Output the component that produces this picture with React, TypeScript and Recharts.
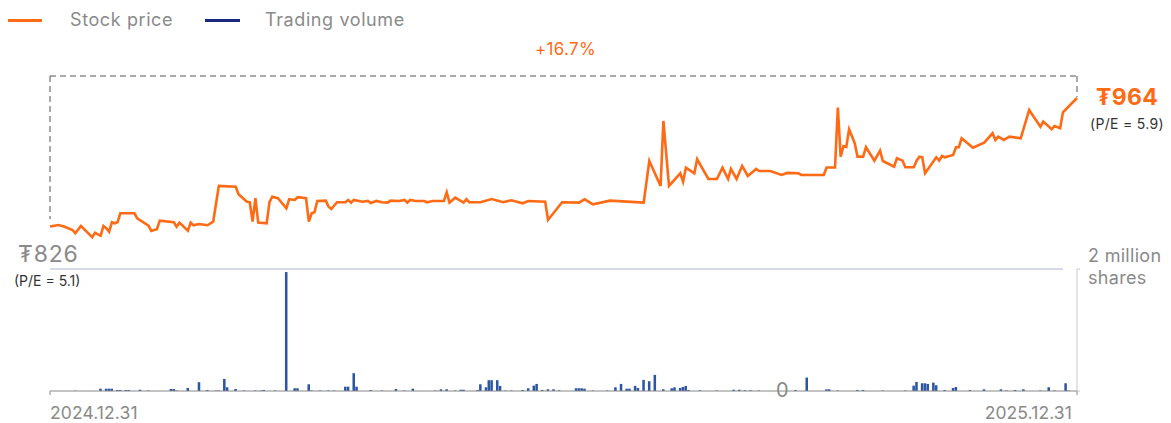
import React from "react";
import {
  LineChart,
  Line,
  BarChart,
  Bar,
  XAxis,
  YAxis,
  ReferenceLine,
} from "recharts";

// Day index: 0 = 2024.12.31, 365 = 2025.12.31
const priceDays = [
  0, 3, 5, 8, 9, 11, 13, 15, 16, 17, 18, 19, 20, 21, 22, 23, 24, 25, 30, 31, 35, 36, 37, 38, 39, 44, 45, 46, 49, 50,
  51, 53, 56, 58, 60, 66, 67, 70, 71, 72, 73, 74, 77, 78, 79, 81, 84, 85, 87, 88, 91, 92, 93, 94, 95, 98, 99, 100,
  102, 105, 106, 107, 108, 111, 113, 114, 116, 118, 120, 121, 124, 126, 127, 128, 130, 133, 134, 136, 140, 141, 142,
  144, 147, 148, 149, 153, 157, 161, 164, 168, 170, 176, 177, 182, 188, 190, 193, 199, 211, 213, 217, 218, 220, 224,
  225, 226, 229, 230, 234, 237, 239, 241, 242, 244, 246, 248, 251, 252, 256, 260, 262, 266, 267, 275, 276, 279, 280,
  281, 282, 283, 284, 286, 287, 289, 290, 293, 295, 296, 300, 301, 303, 304, 307, 308, 309, 310, 311, 315, 316, 317,
  318, 321, 322, 323, 324, 328, 332, 335, 336, 337, 339, 341, 345, 348, 352, 353, 356, 357, 359, 360, 365,
];
const priceValues = [
  826, 827.6, 826, 822.2, 818.7, 826.5, 820.4, 814.4, 819.3, 817.6, 816.1, 826.5, 824.1, 820.4, 830.5, 829.4, 830.5,
  840.2, 840.2, 834.8, 826.9, 821.2, 822.2, 823, 832.2, 830.5, 825.8, 830.1, 821.5, 830.1, 827.3, 828.7, 827.3, 831.2,
  869.5, 868.7, 860.6, 852.6, 852, 831.2, 856.3, 830.1, 829.4, 852, 858, 856.3, 845.5, 855.2, 854.5, 857.4, 856.3,
  831.2, 840.2, 841.3, 853.4, 853.7, 847.3, 844.8, 852, 852, 854.5, 851.6, 854.5, 852.6, 853.4, 851.2, 853.4, 852,
  851.6, 853.7, 853.4, 854.5, 851.6, 854.5, 853.4, 853.4, 852, 853.4, 853.4, 862.7, 851.6, 856.9, 851.6, 855.2, 852,
  852, 855.5, 852, 854.1, 850.9, 853.4, 852.6, 833, 852, 851.6, 855.2, 849.8, 853.7, 851.6, 896.3, 869.5, 939.3,
  869.5, 883.1, 874.1, 889.2, 883.1, 898.2, 877, 877, 889.2, 877, 887.8, 877, 891, 880.2, 887.8, 885.6, 885.6, 881.3,
  883.5, 883.1, 881.3, 881.3, 889.4, 889.4, 953.6, 901, 912.2, 911.4, 930.4, 915.4, 901, 901, 911.1, 896.7, 907.4,
  896.3, 890.2, 899.2, 896.7, 889.6, 889.6, 896.7, 901, 900.3, 883.1, 900.3, 896.7, 901.7, 900.3, 902.8, 911.1, 911.1,
  920.7, 910.6, 916, 926.1, 918.9, 922.4, 918.9, 922.4, 920.7, 951.1, 933.2, 938.6, 930.4, 933.9, 931.5, 948.6, 964,
];

// Trading volume, thousand shares
const volumeDays = [
  9, 18, 20, 21, 22, 24, 25, 27, 28, 32, 35, 43, 44, 45, 49, 53, 56, 59, 60, 62, 63, 66, 69, 73, 75, 76, 80, 84, 87,
  88, 92, 93, 96, 99, 101, 105, 106, 108, 109, 114, 118, 123, 126, 129, 137, 139, 141, 144, 146, 147, 152, 153, 155,
  156, 157, 159, 160, 162, 164, 168, 170, 172, 173, 175, 177, 179, 181, 187, 188, 189, 190, 193, 198, 201, 203, 205,
  206, 208, 209, 211, 213, 215, 218, 221, 222, 224, 225, 226, 227, 231, 237, 243, 245, 247, 249, 252, 265, 269, 276,
  277, 280, 287, 289, 296, 304, 307, 308, 310, 311, 312, 314, 315, 318, 321, 322, 327, 332, 338, 340, 343, 346, 352,
  355, 357, 361, 362,
];
const volumeValues = [
  5, 38, 38, 38, 38, 17, 17, 17, 17, 21, 8, 33, 33, 8, 50, 144, 17, 8, 8, 198, 61, 33, 8, 8, 8, 17, 8, 1950, 45, 45,
  110, 8, 8, 8, 8, 71, 71, 292, 71, 17, 8, 33, 8, 38, 8, 28, 28, 8, 21, 21, 17, 110, 61, 177, 177, 177, 83, 8, 8, 17,
  45, 88, 116, 17, 28, 28, 12, 45, 45, 45, 38, 8, 8, 61, 116, 38, 38, 83, 50, 182, 160, 264, 28, 45, 61, 50, 66, 83,
  17, 12, 8, 21, 21, 12, 12, 8, 17, 220, 28, 28, 8, 17, 17, 8, 8, 88, 149, 127, 127, 116, 137, 94, 17, 50, 66, 17,
  28, 28, 8, 17, 28, 8, 61, 8, 127, 8,
];

const startDateLabel = "2024.12.31";
const endDateLabel = "2025.12.31";
const volumeMax = 2000;

const priceData = priceDays.map((d, i) => ({ day: d, price: priceValues[i] }));
const volumeData = volumeDays.map((d, i) => ({ day: d, volume: volumeValues[i] }));

const startPrice = priceValues[0];
const endPrice = priceValues[priceValues.length - 1];
const change = ((endPrice / startPrice - 1) * 100).toFixed(1);

const ORANGE = "#FF6A14";
const BLUE = "#2C55A2";
const NAVY = "#1B2A80";
const GRAY = "#8a8a8a";
const FONT = "Inter, 'Noto Sans', sans-serif";

const W = 1171;
const H = 423;
const PRICE_DOMAIN: [number, number] = [781.4, 987.6];

const txt = (
  left: number | undefined,
  cy: number,
  size: number,
  color: string,
  content: string,
  extra: React.CSSProperties = {}
) => (
  <div
    style={{
      position: "absolute",
      left,
      top: cy,
      transform: "translateY(-50%)",
      fontSize: size,
      lineHeight: 1,
      color,
      fontFamily: FONT,
      whiteSpace: "nowrap",
      ...extra,
    }}
  >
    {content}
  </div>
);

const DateTick = (props: any) => {
  const { x, y, payload } = props;
  const isStart = payload.value === 0;
  return (
    <text
      x={isStart ? x : x - 5}
      y={y + 22}
      textAnchor={isStart ? "start" : "end"}
      fontSize={17.5}
      letterSpacing={0.1}
      fill={GRAY}
      fontFamily={FONT}
    >
      {isStart ? startDateLabel : endDateLabel}
    </text>
  );
};

export default function App() {
  return (
    <div style={{ position: "absolute", left: 0, top: 0, width: W, height: H, background: "#fff" }}>
      <div style={{ position: "absolute", left: 0, top: 0 }}>
        <BarChart
          width={W}
          height={H}
          data={volumeData}
          margin={{ top: 269, left: 50, right: 64, bottom: 0 }}
        >
          <XAxis
            dataKey="day"
            type="number"
            domain={[0, 365]}
            ticks={[0, 365]}
            axisLine={{ stroke: "#888", strokeWidth: 1 }}
            tickLine={{ stroke: "#888" }}
            tickSize={4}
            tick={<DateTick />}
            height={32}
          />
          <YAxis
            orientation="right"
            domain={[0, volumeMax]}
            ticks={[0, volumeMax]}
            width={30}
            axisLine={{ stroke: "#c4c8d4" }}
            tickLine={{ stroke: "#c4c8d4" }}
            tickSize={3}
            tick={() => <g />}
          />
          <ReferenceLine
            segment={[
              { x: 0, y: volumeMax },
              { x: 360, y: volumeMax },
            ]}
            stroke="#d5d9ea"
            strokeWidth={2}
          />
          <Bar dataKey="volume" fill={BLUE} barSize={3.5} isAnimationActive={false} />
        </BarChart>
      </div>
      <div style={{ position: "absolute", left: 0, top: 0 }}>
        <LineChart
          width={W}
          height={H}
          data={priceData}
          margin={{ top: 76, left: 50, right: 94, bottom: 155 }}
        >
          <XAxis dataKey="day" type="number" domain={[0, 365]} hide />
          <YAxis domain={PRICE_DOMAIN} hide allowDataOverflow />
          <ReferenceLine
            segment={[
              { x: 0, y: PRICE_DOMAIN[1] },
              { x: 365, y: PRICE_DOMAIN[1] },
            ]}
            stroke="#555"
            strokeDasharray="6 4"
            strokeWidth={1}
            ifOverflow="visible"
          />
          <ReferenceLine
            segment={[
              { x: 0, y: PRICE_DOMAIN[1] },
              { x: 0, y: startPrice + 8 },
            ]}
            stroke="#555"
            strokeDasharray="6 4"
            strokeWidth={1}
            ifOverflow="visible"
          />
          <ReferenceLine
            segment={[
              { x: 365, y: PRICE_DOMAIN[1] },
              { x: 365, y: endPrice + 1 },
            ]}
            stroke="#555"
            strokeDasharray="6 4"
            strokeWidth={1}
            ifOverflow="visible"
          />
          <Line
            dataKey="price"
            type="linear"
            stroke={ORANGE}
            strokeWidth={2.6}
            dot={false}
            isAnimationActive={false}
          />
        </LineChart>
      </div>

      {/* Legend */}
      <div style={{ position: "absolute", left: 8, top: 19, width: 34, height: 2.5, background: ORANGE }} />
      {txt(70, 20, 18, GRAY, "Stock price", { letterSpacing: 0.6 })}
      <div style={{ position: "absolute", left: 205, top: 19, width: 35, height: 2.5, background: NAVY }} />
      {txt(265, 20, 18, GRAY, "Trading volume", { letterSpacing: 0.6 })}

      {txt(535, 49, 17, ORANGE, `+${change}%`, { letterSpacing: 0.3 })}

      {txt(18, 254, 23, GRAY, `₮${startPrice}`, { letterSpacing: 0.8 })}
      {txt(14, 281, 14, "#333", "(P/E = 5.1)")}
      {txt(1096, 97, 23, ORANGE, `₮${endPrice}`, { fontWeight: 700, letterSpacing: 0.3 })}
      {txt(1090, 124, 14, "#333", "(P/E = 5.9)", { letterSpacing: 0.3 })}

      {txt(1088, 256, 18, GRAY, "2 million", { letterSpacing: 0.3 })}
      {txt(1088, 278, 18, GRAY, "shares", { letterSpacing: 0.3 })}
      {txt(776, 390, 20, GRAY, "0")}
    </div>
  );
}
